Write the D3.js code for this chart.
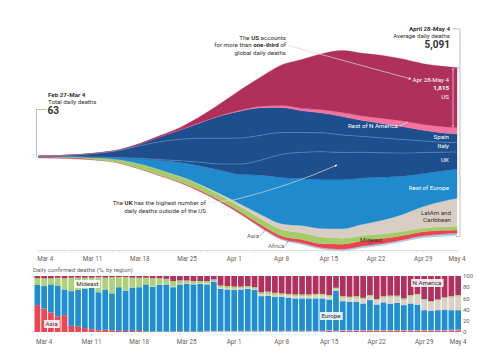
<!DOCTYPE html>
<html><head><meta charset="utf-8">
<script src="https://cdn.jsdelivr.net/npm/d3@7"></script>
<style>
body{margin:0;background:#fff;}
svg{display:block;font-family:Roboto,"Open Sans",sans-serif;}
</style></head><body>
<svg id="c" width="496" height="360"></svg>
<script>
// ---------- DATA ----------
// stream: 7-day average daily deaths, sampled dates
const streamDates = ["2020-03-03","2020-03-06","2020-03-09","2020-03-12","2020-03-15","2020-03-18","2020-03-21","2020-03-24","2020-03-27","2020-03-30","2020-04-02","2020-04-05","2020-04-08","2020-04-11","2020-04-14","2020-04-17","2020-04-20","2020-04-23","2020-04-26","2020-04-29","2020-05-02","2020-05-04"];
const usDeaths        = [1,2,3,4,7,14,35,75,180,360,620,900,1230,1480,1700,1880,1900,1910,1880,1840,1830,1815];
const restNADeaths    = [0,0,0,0,1,2,3,6,12,20,30,45,60,75,100,120,140,160,170,180,190,190];
const spainDeaths     = [0,0,2,5,15,50,150,280,470,680,820,830,760,660,600,560,480,430,390,320,280,260];
const italyDeaths     = [10,25,60,125,220,380,540,650,730,780,790,750,660,600,570,530,480,450,410,350,300,290];
const ukDeaths        = [0,0,1,2,4,10,25,50,110,190,320,460,700,800,850,830,780,740,700,640,560,520];
const restEuropeDeaths= [1,3,8,22,60,160,280,420,560,720,900,1200,1400,1420,1480,1480,1400,1300,1150,1000,920,880];
const latamDeaths     = [0,0,0,0,1,2,6,12,25,45,80,130,180,220,260,290,340,420,520,650,780,850];
const mideastDeaths   = [12,20,35,60,90,140,160,160,160,155,160,180,190,200,200,180,160,140,125,115,110,110];
const asiaDeaths      = [36,30,25,15,12,15,20,25,35,45,60,75,90,110,120,150,160,150,130,120,110,100];
const africaDeaths    = [0,0,0,1,1,2,4,6,10,15,20,30,35,40,45,50,55,55,55,60,65,70];

// bars: daily confirmed deaths, % by region, Mar 3 - May 4
const barStart = "2020-03-03", barEnd = "2020-05-04";
const barAsia     = [48,42,35,28,30,11,10,7,5,3,4,3,2,2,2,2,1,1,1,1,1,1,1,1,1,1,1,1,1,1,1,1,1,1,1,1,1,1,1,1,1,1,1,2,1,2,2,2,2,2,2,2,2,2,2,2,2,2,2,2,2,3,3];
const barAfrica   = [0,0,0,0,0,0,0,0,0,0,0,0,0,0,0,0,0,0,0,0,0,0,0,0,0,1,1,1,1,1,1,1,1,1,1,1,1,1,1,1,1,1,1,1,1,1,1,1,1,1,1,1,1,1,1,1,1,1,1,1,1,1,1];
const barEurope   = [36,40,50,55,46,62,65,70,74,68,72,66,78,72,77,78,84,80,83,84,79,84,85,84,85,83,88,75,74,73,74,75,73,62,63,61,61,59,58,58,58,58,58,55,72,52,51,51,48,54,46,50,47,49,45,48,46,36,35,36,37,35,35];
const barLatAm    = [0,0,0,0,0,0,0,0,0,0,0,0,0,0,0,0,0,1,1,1,1,1,1,1,1,2,1,2,2,2,2,2,2,3,3,3,3,4,4,4,4,5,5,5,3,6,6,7,7,6,7,8,12,10,9,12,16,17,15,17,20,22,24];
const barMideast  = [12,14,11,14,20,24,22,20,18,27,21,29,18,24,18,17,12,14,11,9,10,6,5,5,4,4,3,4,4,4,3,3,3,4,4,4,3,3,3,3,3,3,3,3,2,3,3,3,3,3,3,3,3,3,3,3,3,3,2,2,2,3,3];
const barNAmerica = [4,4,4,3,4,3,3,3,3,2,3,2,2,2,3,3,3,4,4,5,9,8,8,9,9,9,6,17,18,19,19,18,20,29,28,30,31,32,33,33,33,32,32,34,21,36,37,36,39,34,41,36,35,35,40,34,32,41,45,42,38,36,34];

const axisLabels = ["Mar 4","Mar 11","Mar 18","Mar 25","Apr 1","Apr 8","Apr 15","Apr 22","Apr 29","May 4"];
const barTicks = [0,20,40,60,80,100];

// ---------- SETUP ----------
const svg = d3.select("#c");
const parse = d3.timeParse("%Y-%m-%d");
const lblParse = d3.timeParse("%b %d %Y");
const tickDates = axisLabels.map(s => lblParse(s + " 2020"));

const keys = ["Africa","Asia","Mideast","LatAm","RestEurope","UK","Italy","Spain","RestNA","US"];
const cols = {Africa:africaDeaths, Asia:asiaDeaths, Mideast:mideastDeaths, LatAm:latamDeaths, RestEurope:restEuropeDeaths, UK:ukDeaths, Italy:italyDeaths, Spain:spainDeaths, RestNA:restNADeaths, US:usDeaths};
const colors = {Africa:"#a9c9e8", Asia:"#ec4350", Mideast:"#a6cc69", LatAm:"#d9cec4", RestEurope:"#1f8bcc", UK:"#1d4f8e", Italy:"#1d4f8e", Spain:"#1d4f8e", RestNA:"#f4739f", US:"#b0305c"};

const rows = streamDates.map((d,i) => {
  const r = {date: parse(d)};
  keys.forEach(k => r[k] = cols[k][i]);
  return r;
});

const x = d3.scaleTime().domain([parse("2020-03-03"), parse("2020-05-04")]).range([38.5, 457]);
const y = d3.scaleLinear().domain([0, 5091]).range([158, 158 - 168]);

// offset: blend of wiggle and silhouette
function blendOffset(w) {
  return function(series, order) {
    const m = series[0].length;
    const tot = d3.range(m).map(j => d3.sum(series, s => s[j][1] - s[j][0]));
    d3.stackOffsetWiggle(series, order);
    const base = series[order[0]].map(p => p[0]);
    for (let j = 0; j < m; ++j) {
      const sil = -tot[j]/2 + tot[0]/2;
      const shift = (1 - w) * (sil - base[j]);
      series.forEach(s => { s[j][0] += shift; s[j][1] += shift; });
    }
  };
}
const series = d3.stack().keys(keys).order(d3.stackOrderNone).offset(blendOffset(0.55))(rows);

const area = d3.area().curve(d3.curveMonotoneX)
  .x(d => x(d.data.date)).y0(d => y(d[0])).y1(d => y(d[1]));
const line = d3.line().curve(d3.curveMonotoneX)
  .x(d => x(d.data.date)).y(d => y(d[0]));

const g = svg.append("g");
g.selectAll("path.layer").data(series).join("path")
  .attr("class","layer").attr("d", area)
  .attr("fill", d => colors[d.key]).attr("stroke", d => colors[d.key]).attr("stroke-width",0.3);

// thin separators inside the dark blue block
["Italy","Spain"].forEach(k => {
  const s = series.find(t => t.key === k);
  g.append("path").attr("d", line(s)).attr("fill","none")
   .attr("stroke","#6f93c0").attr("stroke-width",0.7).attr("opacity",0.8);
});

// ---------- STREAM AXIS ----------
const axY = 250.5;
const allDays = d3.timeDay.range(parse("2020-03-03"), d3.timeDay.offset(parse("2020-05-04"),1));
const ax = svg.append("g").attr("transform",`translate(0,${axY})`);
ax.append("line").attr("x1",x.range()[0]).attr("x2",x.range()[1]).attr("stroke","#d4d0cc").attr("stroke-width",0.6);
ax.selectAll("line.t").data(allDays).join("line").attr("class","t")
  .attr("x1",d=>x(d)).attr("x2",d=>x(d)).attr("y1",0).attr("y2",2.2).attr("stroke","#ccc8c4").attr("stroke-width",0.5);
ax.selectAll("text").data(tickDates).join("text")
  .attr("x",d=>x(d)).attr("y",10.5).attr("text-anchor","middle")
  .attr("font-size",6.3).attr("fill","#66605c").text((d,i)=>axisLabels[i]);

// ---------- ANNOTATIONS ----------
const txt = (xx,yy,str,opt={}) => svg.append("text").attr("x",xx).attr("y",yy)
  .attr("font-size",opt.size||6.2).attr("fill",opt.fill||"#33302e")
  .attr("font-weight",opt.bold?"bold":null).attr("text-anchor",opt.anchor||"start").text(str);

const defs = svg.append("defs");
defs.append("marker").attr("id","arw").attr("viewBox","0 0 6 6").attr("refX",5).attr("refY",3)
  .attr("markerWidth",4).attr("markerHeight",4).attr("orient","auto")
  .append("path").attr("d","M0,0L6,3L0,6Z").attr("fill","#f2f2f2");

// start annotation
const first = series[0][0], topFirst = series[series.length-1][0];
const startY = (y(first[0]) + y(topFirst[1]))/2;
txt(48,97,"Feb 27-Mar 4",{bold:true});
txt(48,103.5,"Total daily deaths");
txt(47.5,113.5,"63",{bold:true,size:10});
svg.append("path").attr("d",`M46.5,109.5H36.5V${startY}`).attr("fill","none").attr("stroke","#a7a29e").attr("stroke-width",0.7);

// US annotation
const t1 = svg.append("text").attr("x",286).attr("y",39.5).attr("text-anchor","end").attr("font-size",6.2).attr("fill","#33302e");
t1.append("tspan").text("The ");
t1.append("tspan").attr("font-weight","bold").text("US");
t1.append("tspan").text(" accounts");
const t2 = svg.append("text").attr("x",286).attr("y",47).attr("text-anchor","end").attr("font-size",6.2).attr("fill","#33302e");
t2.append("tspan").text("for more than ");
t2.append("tspan").attr("font-weight","bold").text("one-third");
t2.append("tspan").text(" of");
txt(286,54.5,"global daily deaths",{anchor:"end"});
svg.append("path").attr("d","M288.5,45.5L411,79").attr("stroke","#d8d8d8").attr("stroke-width",0.7).attr("marker-end","url(#arw)");

// US bracket inside
const usS = series.find(s=>s.key==="US"); const last = usS[usS.length-1];
const usTop = y(last[1]), usBot = y(last[0]);
svg.append("path").attr("d",`M453,${usTop+1.5}V${usBot-1.5}`).attr("stroke","#fff").attr("stroke-width",0.6);
svg.append("path").attr("d",`M451.8,${usTop+1.5}H454.2M451.8,${usBot-1.5}H454.2`).attr("stroke","#fff").attr("stroke-width",0.6);
txt(449,82,"Apr 28-May 4",{anchor:"end",fill:"#fff"});
txt(449,89.5,"1,815",{anchor:"end",fill:"#fff",bold:true});
txt(449,98.5,"US",{anchor:"end",fill:"#fff"});

// right bracket
const topS = series[series.length-1], botS = series[0];
const sTop = y(topS[topS.length-1][1]), sBot = y(botS[botS.length-1][0]);
txt(450,31,"April 28-May 4",{anchor:"end",bold:true});
txt(450,38,"Average daily deaths",{anchor:"end"});
txt(450,48,"5,091",{anchor:"end",bold:true,size:10});
svg.append("path").attr("d",`M452.5,29H460V${sBot+1}H456M456,${sTop}H460`).attr("fill","none").attr("stroke","#a7a29e").attr("stroke-width",0.7);

// UK annotation
const u1 = svg.append("text").attr("x",206).attr("y",204.5).attr("text-anchor","end").attr("font-size",6.2).attr("fill","#33302e");
u1.append("tspan").text("The ");
u1.append("tspan").attr("font-weight","bold").text("UK");
u1.append("tspan").text(" has the highest number of");
txt(206,212.5,"daily deaths outside of the US",{anchor:"end"});
svg.append("path").attr("d","M209,202.5L234,200Q290,186 337,165").attr("fill","none").attr("stroke","#d8d8d8").attr("stroke-width",0.7).attr("marker-end","url(#arw)");

// layer labels
txt(398,128,"Rest of N America",{anchor:"end",fill:"#fff"});
svg.append("path").attr("d","M399.5,126L408,122").attr("stroke","#fff").attr("stroke-width",0.6);
txt(449,138.5,"Spain",{anchor:"end",fill:"#fff"});
txt(449,148,"Italy",{anchor:"end",fill:"#fff"});
txt(449,162,"UK",{anchor:"end",fill:"#fff"});
txt(449,190,"Rest of Europe",{anchor:"end",fill:"#fff"});
txt(451,215,"LatAm and",{anchor:"end"});
txt(451,221.5,"Caribbean",{anchor:"end"});
txt(360,241.5,"Mideast");
txt(259,238,"Asia",{anchor:"end",fill:"#66605c"});
svg.append("path").attr("d","M260,236Q264,234 265.5,228").attr("fill","none").attr("stroke","#66605c").attr("stroke-width",0.5);
txt(268,247.5,"Africa",{fill:"#66605c"});
svg.append("path").attr("d","M285,245.5Q288,244 288.5,239.5").attr("fill","none").attr("stroke","#66605c").attr("stroke-width",0.5);

// ---------- BAR CHART ----------
const barDays = d3.timeDay.range(parse(barStart), d3.timeDay.offset(parse(barEnd),1));
const bx = d3.scaleBand().domain(barDays).range([34.5,461]).paddingInner(0.16);
const by = d3.scaleLinear().domain([0,100]).range([332,276]);
const barKeys = ["Asia","Africa","Europe","LatAm","Mideast","NAmerica"];
const barCols = {Asia:barAsia, Africa:barAfrica, Europe:barEurope, LatAm:barLatAm, Mideast:barMideast, NAmerica:barNAmerica};
const barColors = {Asia:"#ee4552", Africa:"#a9c9e8", Europe:"#1f8fd2", LatAm:"#dcd1c8", Mideast:"#aed17b", NAmerica:"#b2305e"};
const barRows = barDays.map((d,i)=>{ const r={date:d}; barKeys.forEach(k=>{ r[k]=barCols[k][i]; }); return r; });
const bSeries = d3.stack().keys(barKeys).offset(d3.stackOffsetExpand)(barRows);

svg.append("text").attr("x",33).attr("y",271.5).attr("font-size",6.1).attr("fill","#66605c").text("Daily confirmed deaths (%, by region)");

const bg = svg.append("g");
bSeries.forEach(s => {
  bg.append("g").attr("fill", barColors[s.key]).selectAll("rect").data(s).join("rect")
    .attr("x", d=>bx(d.data.date)).attr("width", bx.bandwidth())
    .attr("y", d=>by(d[1]*100)).attr("height", d=>Math.max(0, by(d[0]*100)-by(d[1]*100)));
});

// bar x axis
const bax = svg.append("g").attr("transform","translate(0,333)");
bax.selectAll("line").data(barDays).join("line")
  .attr("x1",d=>bx(d)+bx.bandwidth()/2).attr("x2",d=>bx(d)+bx.bandwidth()/2).attr("y1",0.5).attr("y2",2.5)
  .attr("stroke","#ccc8c4").attr("stroke-width",0.5);
bax.selectAll("text").data(tickDates).join("text")
  .attr("x",d=>bx(d)+bx.bandwidth()/2).attr("y",11).attr("text-anchor","middle")
  .attr("font-size",6.3).attr("fill","#66605c").text((d,i)=>axisLabels[i]);

// right axis
svg.append("g").selectAll("text").data(barTicks).join("text")
  .attr("x",463).attr("y",d=>by(d)+2.2).attr("font-size",6).attr("fill","#66605c").text(d=>d);

// bar labels
const boxLabel = (cx,cy,str) => {
  const t = svg.append("text").attr("x",cx).attr("y",cy+2.1).attr("text-anchor","middle")
    .attr("font-size",6.2).attr("fill","#33302e").text(str);
  const bb = t.node().getBBox();
  svg.insert("rect", () => t.node()).attr("x",bb.x-1.5).attr("y",cy-4).attr("width",bb.width+3).attr("height",8)
    .attr("fill","#fff").attr("opacity",0.85);
};
boxLabel(51.5,324,"Asia");
boxLabel(87.5,284,"Mideast");
boxLabel(331,316,"Europe");
boxLabel(427,283,"N America");
</script></body></html>
